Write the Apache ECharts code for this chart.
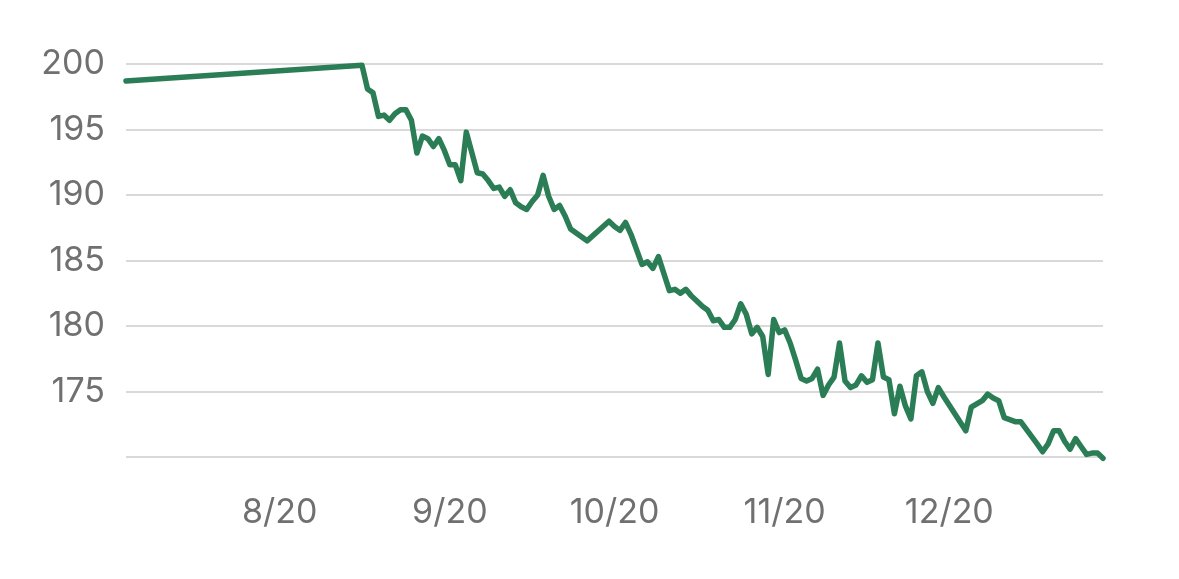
<!DOCTYPE html>
<html lang="en">

<head>
    <meta charset="UTF-8">
    <title>Weight</title>
    <style>
        * {
            margin: 0;
            padding: 0;
        }

        html,
        body {
            background: #ffffff;
        }

        #chart {
            width: 1179px;
            height: 579px;
        }
    </style>
</head>

<body>
    <div id="chart"></div>
    <script src="https://cdn.jsdelivr.net/npm/echarts@6.0.0/dist/echarts.min.js"></script>
    <script type="text/javascript">
        // readings (date, weight)
        var dates = [
            '2020-07-04', '2020-08-16', '2020-08-17', '2020-08-18', '2020-08-19', '2020-08-20',
            '2020-08-21', '2020-08-22', '2020-08-23', '2020-08-24', '2020-08-25', '2020-08-26',
            '2020-08-27', '2020-08-28', '2020-08-29', '2020-08-30', '2020-08-31', '2020-09-01',
            '2020-09-02', '2020-09-03', '2020-09-04', '2020-09-06', '2020-09-07', '2020-09-08',
            '2020-09-09', '2020-09-10', '2020-09-11', '2020-09-12', '2020-09-13', '2020-09-14',
            '2020-09-15', '2020-09-16', '2020-09-17', '2020-09-18', '2020-09-19', '2020-09-20',
            '2020-09-21', '2020-09-22', '2020-09-23', '2020-09-26', '2020-09-30', '2020-10-01',
            '2020-10-02', '2020-10-03', '2020-10-04', '2020-10-06', '2020-10-07', '2020-10-08',
            '2020-10-09', '2020-10-11', '2020-10-12', '2020-10-13', '2020-10-14', '2020-10-15',
            '2020-10-16', '2020-10-17', '2020-10-18', '2020-10-19', '2020-10-20', '2020-10-21',
            '2020-10-22', '2020-10-23', '2020-10-24', '2020-10-25', '2020-10-26', '2020-10-27',
            '2020-10-28', '2020-10-29', '2020-10-30', '2020-10-31', '2020-11-01', '2020-11-02',
            '2020-11-03', '2020-11-04', '2020-11-05', '2020-11-06', '2020-11-07', '2020-11-08',
            '2020-11-09', '2020-11-10', '2020-11-11', '2020-11-12', '2020-11-13', '2020-11-14',
            '2020-11-15', '2020-11-16', '2020-11-17', '2020-11-18', '2020-11-19', '2020-11-20',
            '2020-11-21', '2020-11-22', '2020-11-23', '2020-11-24', '2020-11-25', '2020-11-26',
            '2020-11-27', '2020-11-28', '2020-11-29', '2020-11-30', '2020-12-04', '2020-12-05',
            '2020-12-07', '2020-12-08', '2020-12-09', '2020-12-10', '2020-12-11', '2020-12-13',
            '2020-12-14', '2020-12-17', '2020-12-18', '2020-12-19', '2020-12-20', '2020-12-21',
            '2020-12-22', '2020-12-23', '2020-12-24', '2020-12-25', '2020-12-26', '2020-12-27',
            '2020-12-28', '2020-12-29'
        ];
        var weights = [
            198.7, 199.9, 198.1, 197.8, 196.0, 196.1,
            195.7, 196.2, 196.5, 196.5, 195.7, 193.2,
            194.5, 194.3, 193.7, 194.3, 193.4, 192.3,
            192.3, 191.1, 194.8, 191.7, 191.6, 191.1,
            190.5, 190.6, 189.9, 190.4, 189.4, 189.1,
            188.9, 189.5, 190.0, 191.5, 189.9, 188.9,
            189.2, 188.4, 187.4, 186.5, 188.0, 187.6,
            187.3, 187.9, 187.0, 184.7, 184.9, 184.4,
            185.3, 182.7, 182.8, 182.5, 182.8, 182.3,
            181.9, 181.5, 181.2, 180.4, 180.5, 179.9,
            179.9, 180.5, 181.7, 180.9, 179.4, 179.9,
            179.2, 176.3, 180.5, 179.5, 179.7, 178.7,
            177.4, 176.0, 175.8, 176.0, 176.7, 174.7,
            175.5, 176.1, 178.7, 175.8, 175.3, 175.5,
            176.2, 175.7, 175.9, 178.7, 176.1, 175.9,
            173.3, 175.4, 173.9, 172.9, 176.2, 176.5,
            175.0, 174.1, 175.3, 174.6, 172.0, 173.8,
            174.3, 174.8, 174.5, 174.3, 173.0, 172.7,
            172.7, 171.0, 170.4, 171.0, 172.0, 172.0,
            171.2, 170.6, 171.4, 170.8, 170.2, 170.3,
            170.3, 169.9
        ];

        // x-axis labels: one per month
        var monthTicks = ['2020-08-01', '2020-09-01', '2020-10-01', '2020-11-01', '2020-12-01'];
        var monthLabels = ['8/20', '9/20', '10/20', '11/20', '12/20'];

        // days counted from the first month tick
        var DAY = 86400000;
        function toDay(s) {
            var p = s.split('-');
            return Math.round((Date.UTC(+p[0], +p[1] - 1, +p[2]) - Date.UTC(2020, 7, 1)) / DAY);
        }

        var tickDays = monthTicks.map(toDay);
        var seriesData = dates.map(function (d, i) { return [toDay(d), weights[i]]; });

        var chart = echarts.init(document.getElementById('chart'));
        var labelFont = 'Inter, Roboto, "Noto Sans", sans-serif';

        var option = {
            animation: false,
            backgroundColor: '#ffffff',
            grid: {
                left: 126,
                right: 76,
                top: 64,
                bottom: 122
            },
            xAxis: {
                type: 'value',
                min: toDay(dates[0]),
                max: toDay(dates[dates.length - 1]),
                axisLine: { show: false },
                axisTick: { show: false },
                splitLine: { show: false },
                axisLabel: {
                    customValues: tickDays,
                    margin: 39,
                    color: '#707070',
                    fontSize: 34,
                    fontFamily: labelFont,
                    formatter: function (v) {
                        var i = tickDays.indexOf(v);
                        return i >= 0 ? monthLabels[i] : '';
                    }
                }
            },
            yAxis: {
                type: 'value',
                min: 170,
                max: 200,
                interval: 5,
                axisLine: { show: false },
                axisTick: { show: false },
                axisLabel: {
                    showMinLabel: false,
                    margin: 21,
                    color: '#707070',
                    fontSize: 34,
                    fontFamily: labelFont
                },
                splitLine: {
                    lineStyle: { color: '#d9d9d9', width: 2 }
                }
            },
            series: [
                {
                    type: 'line',
                    data: seriesData,
                    showSymbol: false,
                    clip: false,
                    lineStyle: {
                        color: '#2b7d56',
                        width: 5.5,
                        join: 'round',
                        cap: 'round'
                    }
                }
            ]
        };
        chart.setOption(option);
    </script>
</body>

</html>
